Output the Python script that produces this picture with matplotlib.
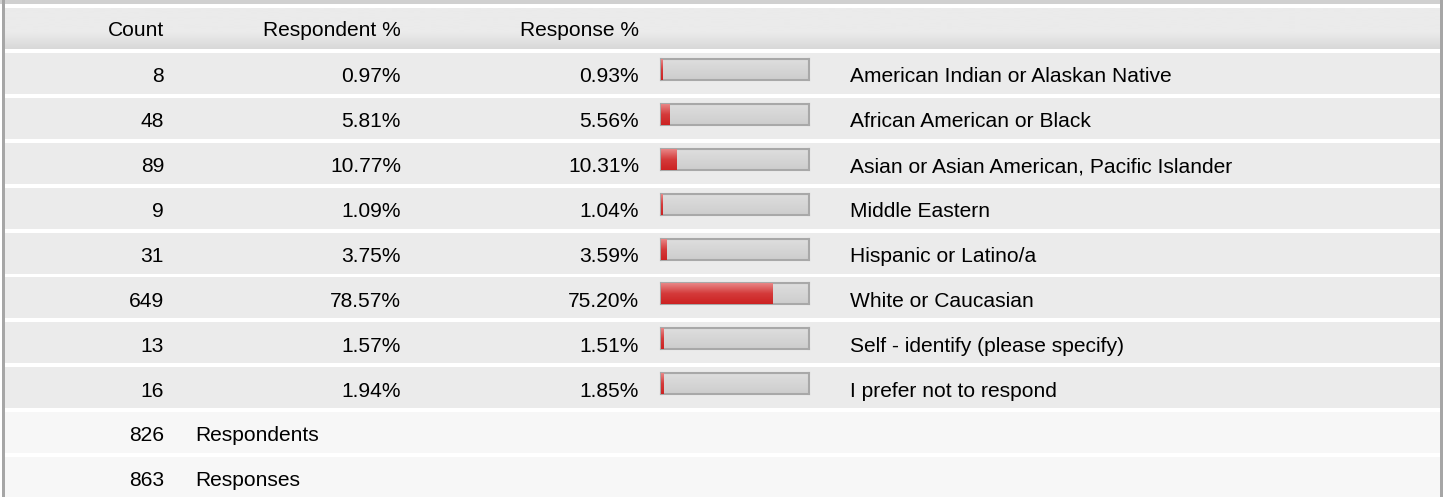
import matplotlib.pyplot as plt
import numpy as np
from matplotlib.colors import LinearSegmentedColormap
from matplotlib.patches import Rectangle

plt.rcParams["font.family"] = ["Liberation Sans", "DejaVu Sans"]

# Survey data
labels = [
    "American Indian or Alaskan Native",
    "African American or Black",
    "Asian or Asian American, Pacific Islander",
    "Middle Eastern",
    "Hispanic or Latino/a",
    "White or Caucasian",
    "Self - identify (please specify)",
    "I prefer not to respond",
]
counts = [8, 48, 89, 9, 31, 649, 13, 16]
respondent_pct = [0.97, 5.81, 10.77, 1.09, 3.75, 78.57, 1.57, 1.94]
response_pct = [0.93, 5.56, 10.31, 1.04, 3.59, 75.20, 1.51, 1.85]
headers = ["Count", "Respondent %", "Response %"]
total_respondents = 826
total_responses = 863

W, H = 1443, 497
FS = 15.1
ROW_TOP0 = 8
PITCH = 44.9
ROW_H = 41
TXT = "#000000"

fig = plt.figure(figsize=(W / 100, H / 100), dpi=100)
ax = fig.add_axes([0, 0, 1, 1])
ax.set_xlim(0, W)
ax.set_ylim(H, 0)
ax.axis("off")


def row_top(k):
    return ROW_TOP0 + PITCH * k


def vgrad(ax_, x0, x1, y0, y1, c_top, c_bot, stops=(0.0, 1.0), zorder=1):
    cmap = LinearSegmentedColormap.from_list(
        "g", [(0.0, c_top), (stops[0], c_top), (stops[1], c_bot), (1.0, c_bot)]
    )
    grad = np.linspace(0, 1, 64).reshape(-1, 1)
    return ax_.imshow(grad, cmap=cmap, aspect="auto", extent=(x0, x1, y1, y0),
                      origin="upper", zorder=zorder, interpolation="bilinear")


# top strip and side borders
ax.add_patch(Rectangle((0, 0), W, 4, color="#d0d0d0", lw=0, zorder=3))
ax.add_patch(Rectangle((2, 0), 2.5, H, color="#a6a6a6", lw=0, zorder=3))
ax.add_patch(Rectangle((1440, 0), 3, H, color="#a6a6a6", lw=0, zorder=3))

# header row
t = row_top(0)
vgrad(ax, 4.5, 1440, t, t + ROW_H, "#ebebeb", "#d8d8d8", stops=(0.6, 1.0))
cy = t + ROW_H / 2 + 2.5
ax.text(164, cy, headers[0], ha="right", va="center", fontsize=FS, color=TXT)
ax.text(401, cy, headers[1], ha="right", va="center", fontsize=FS, color=TXT)
ax.text(639, cy, headers[2], ha="right", va="center", fontsize=FS, color=TXT)

red_cmap = LinearSegmentedColormap.from_list("r", ["#e88585", "#d43a3a", "#cc2222"])
gray_cmap = LinearSegmentedColormap.from_list("gr", ["#dedede", "#cdcdcd"])

for i, lab in enumerate(labels):
    t = row_top(i + 1)
    ax.add_patch(Rectangle((4.5, t), 1435.5, ROW_H, color="#ebebeb", lw=0, zorder=1))
    cy = t + ROW_H / 2 + 3.5
    ax.text(164, cy, f"{counts[i]}", ha="right", va="center", fontsize=FS, color=TXT)
    ax.text(401, cy, f"{respondent_pct[i]:.2f}%", ha="right", va="center",
            fontsize=FS, color=TXT)
    ax.text(639, cy, f"{response_pct[i]:.2f}%", ha="right", va="center",
            fontsize=FS, color=TXT)
    ax.text(850, cy, lab, ha="left", va="center", fontsize=FS, color=TXT)

    # progress bar for response %
    bx0, bx1 = 661, 809
    by0, by1 = t + 6, t + 27
    bax = fig.add_axes([bx0 / W, 1 - by1 / H, (bx1 - bx0) / W, (by1 - by0) / H])
    bax.set_xlim(0, 100)
    bax.set_ylim(0, 1)
    grad = np.linspace(0, 1, 64).reshape(-1, 1)
    bax.imshow(grad, cmap=gray_cmap, aspect="auto", extent=(0, 100, 0, 1),
               origin="upper", zorder=1)
    bar = bax.barh([0.5], [response_pct[i]], height=1, left=0, color="#cc2222",
                   lw=0, zorder=2)[0]
    im = bax.imshow(grad, cmap=red_cmap, aspect="auto", extent=(0, 100, 0, 1),
                    origin="upper", zorder=3)
    im.set_clip_path(bar)
    bax.set_xticks([])
    bax.set_yticks([])
    for sp in bax.spines.values():
        sp.set_color("#a8a8a8")
        sp.set_linewidth(1.5)

# summary rows
summary = [(total_respondents, "Respondents"), (total_responses, "Responses")]
for j, (val, name) in enumerate(summary):
    t = row_top(len(labels) + 1 + j)
    ax.add_patch(Rectangle((4.5, t), 1435.5, ROW_H, color="#f7f7f7", lw=0, zorder=1))
    cy = t + ROW_H / 2 + 2.5
    ax.text(164, cy, f"{val}", ha="right", va="center", fontsize=FS, color=TXT)
    ax.text(195, cy, name, ha="left", va="center", fontsize=FS, color=TXT)

fig.savefig("out.png", dpi=100, facecolor="white")
